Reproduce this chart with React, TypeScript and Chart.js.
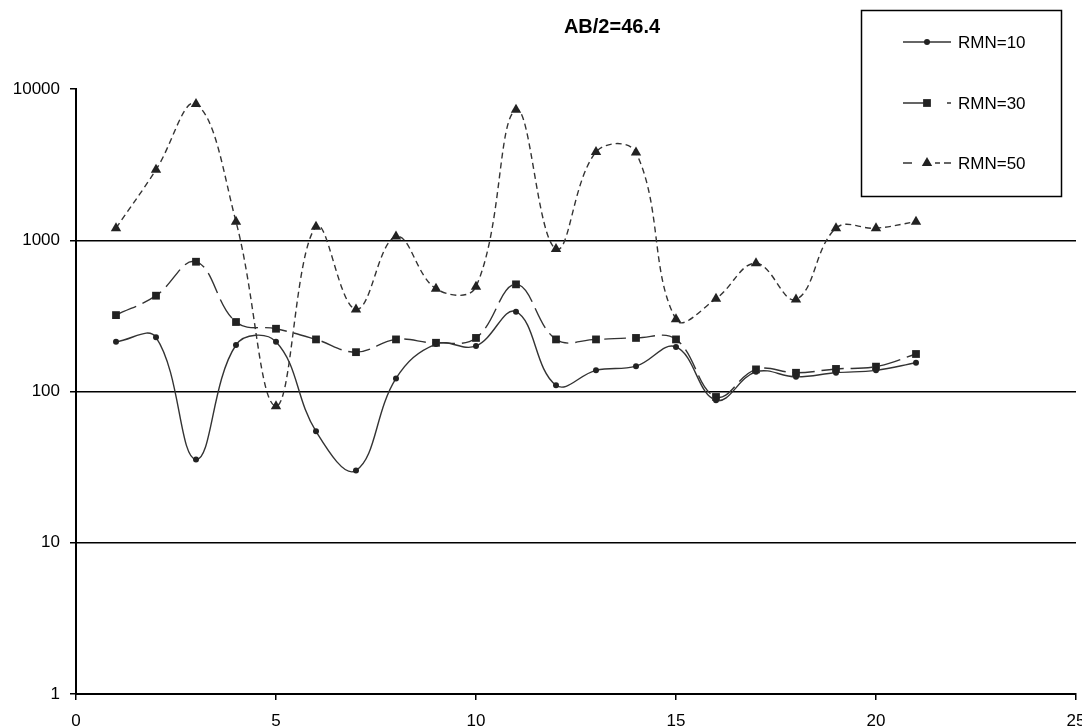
import React, { useEffect, useRef } from "react";
import { Chart, registerables } from "chart.js";

Chart.register(...registerables);

const titleText = "AB/2=46.4";
const seriesLabels = ["RMN=10", "RMN=30", "RMN=50"];
const xValues = [1, 2, 3, 4, 5, 6, 7, 8, 9, 10, 11, 12, 13, 14, 15, 16, 17, 18, 19, 20, 21];
const rmn10 = [213, 228, 35.5, 203, 213, 54.5, 30, 122, 206, 200, 337, 110, 138, 147, 197, 87.5, 135, 125, 133, 138, 155];
const rmn30 = [320, 430, 721, 288, 260, 221, 182, 221, 210, 226, 511, 221, 221, 226, 221, 92, 140, 133, 141, 146, 177];
const rmn50 = [1202, 2922, 7950, 1327, 80, 1230, 349, 1057, 478, 493, 7300, 875, 3828, 3800, 300, 411, 704, 406, 1202, 1202, 1327];
const yTickValues = [1, 10, 100, 1000, 10000];
const xTickValues = [0, 5, 10, 15, 20, 25];

const FONT = '"Liberation Sans", Arial, sans-serif';

function drawMarker(ctx: CanvasRenderingContext2D, style: string, x: number, y: number, r: number, color: string) {
  ctx.save();
  ctx.fillStyle = color;
  ctx.beginPath();
  if (style === "circle") {
    ctx.arc(x, y, r, 0, Math.PI * 2);
  } else if (style === "rect") {
    const s = Math.SQRT1_2 * r;
    ctx.rect(x - s, y - s, 2 * s, 2 * s);
  } else if (style === "triangle") {
    ctx.moveTo(x, y - r);
    ctx.lineTo(x + r * 0.866, y + r * 0.5);
    ctx.lineTo(x - r * 0.866, y + r * 0.5);
    ctx.closePath();
  }
  ctx.fill();
  ctx.restore();
}

const titlePlugin = {
  id: "customTitle",
  afterDraw(chart: any) {
    const ctx = chart.ctx as CanvasRenderingContext2D;
    ctx.save();
    ctx.fillStyle = "#000";
    ctx.font = `bold 20px ${FONT}`;
    ctx.textAlign = "center";
    ctx.textBaseline = "alphabetic";
    ctx.fillText(titleText, 612, 33);
    ctx.restore();
  },
};

const legendPlugin = {
  id: "boxLegend",
  afterDraw(chart: any) {
    const ctx = chart.ctx as CanvasRenderingContext2D;
    ctx.save();
    ctx.fillStyle = "#fff";
    ctx.fillRect(861, 10, 201, 187);
    ctx.strokeStyle = "#000";
    ctx.lineWidth = 1.5;
    ctx.strokeRect(861.5, 10.5, 200, 186);
    const rows = [42, 103, 163];
    chart.data.datasets.forEach((ds: any, i: number) => {
      const y = rows[i];
      ctx.strokeStyle = ds.borderColor;
      ctx.lineWidth = ds.borderWidth;
      ctx.setLineDash(ds.legendDash || []);
      ctx.beginPath();
      ctx.moveTo(903, y);
      ctx.lineTo(951, y);
      ctx.stroke();
      ctx.setLineDash([]);
      drawMarker(ctx, ds.pointStyle, 927, y, ds.pointRadius, ds.pointBackgroundColor);
      ctx.fillStyle = "#000";
      ctx.font = `17px ${FONT}`;
      ctx.textAlign = "left";
      ctx.textBaseline = "middle";
      ctx.fillText(ds.label, 958, y + 1);
    });
    ctx.restore();
  },
};

export default function App() {
  const ref = useRef<HTMLCanvasElement | null>(null);

  useEffect(() => {
    if (!ref.current) return;
    const mk = (vals: number[]) => vals.map((v, i) => ({ x: xValues[i], y: v }));
    const lineColor = "#333";
    const chart = new Chart(ref.current, {
      type: "line",
      data: {
        datasets: [
          {
            label: seriesLabels[0],
            data: mk(rmn10),
            borderColor: lineColor,
            borderWidth: 1.4,
            pointStyle: "circle",
            pointRadius: 3,
            pointBackgroundColor: "#222",
            pointBorderWidth: 0,
            tension: 0.4,
            legendDash: [],
          } as any,
          {
            label: seriesLabels[1],
            data: mk(rmn30),
            borderColor: lineColor,
            borderWidth: 1.4,
            borderDash: [22, 7],
            pointStyle: "rect",
            pointRadius: 5.5,
            pointBackgroundColor: "#222",
            pointBorderWidth: 0,
            tension: 0.4,
            legendDash: [22, 22, 5, 10],
          } as any,
          {
            label: seriesLabels[2],
            data: mk(rmn50),
            borderColor: lineColor,
            borderWidth: 1.4,
            borderDash: [6, 4],
            pointStyle: "triangle",
            pointRadius: 6,
            pointBackgroundColor: "#222",
            pointBorderWidth: 0,
            tension: 0.4,
            legendDash: [9, 23, 5, 4],
          } as any,
        ],
      },
      options: {
        animation: false,
        responsive: false,
        layout: { padding: { top: 89, right: 6, left: 0, bottom: 0 } },
        plugins: {
          legend: { display: false },
          title: { display: false },
          tooltip: { enabled: false },
        },
        elements: { point: { hoverRadius: 0 } },
        scales: {
          x: {
            type: "linear",
            min: 0,
            max: 25,
            afterBuildTicks: (scale: any) => {
              scale.ticks = xTickValues.map((v) => ({ value: v }));
            },
            afterFit: (scale: any) => {
              scale.height = 34;
              scale.paddingLeft = 0;
              scale.paddingRight = 0;
            },
            grid: {
              drawOnChartArea: false,
              drawTicks: true,
              tickLength: 6,
              color: "#000",
              tickColor: "#000",
              lineWidth: 1.5,
            },
            border: { display: true, color: "#000", width: 2 },
            ticks: {
              color: "#000",
              font: { family: FONT, size: 17 },
              padding: 11,
              maxRotation: 0,
              autoSkip: false,
            },
          },
          y: {
            type: "logarithmic",
            min: 1,
            max: 10000,
            afterBuildTicks: (scale: any) => {
              scale.ticks = yTickValues.map((v) => ({ value: v, major: true }));
            },
            afterFit: (scale: any) => {
              scale.width = 76;
              scale.paddingTop = 0;
              scale.paddingBottom = 0;
            },
            grid: {
              drawOnChartArea: true,
              drawTicks: true,
              tickLength: 6,
              color: (c: any) => (c.tick && (c.tick.value === 10000 || c.tick.value === 1) ? "rgba(0,0,0,0)" : "#000"),
              tickColor: "#000",
              lineWidth: 1.5,
            },
            border: { display: true, color: "#000", width: 2 },
            ticks: {
              color: "#000",
              font: { family: FONT, size: 17 },
              padding: 10,
              autoSkip: false,
              callback: (v: any) => String(v),
            },
          },
        },
      },
      plugins: [titlePlugin, legendPlugin],
    });
    return () => chart.destroy();
  }, []);

  return (
    <div style={{ position: "fixed", left: 0, top: 0, width: 1082, height: 728, background: "#fff" }}>
      <canvas ref={ref} width={1082} height={728} style={{ display: "block" }} />
    </div>
  );
}
